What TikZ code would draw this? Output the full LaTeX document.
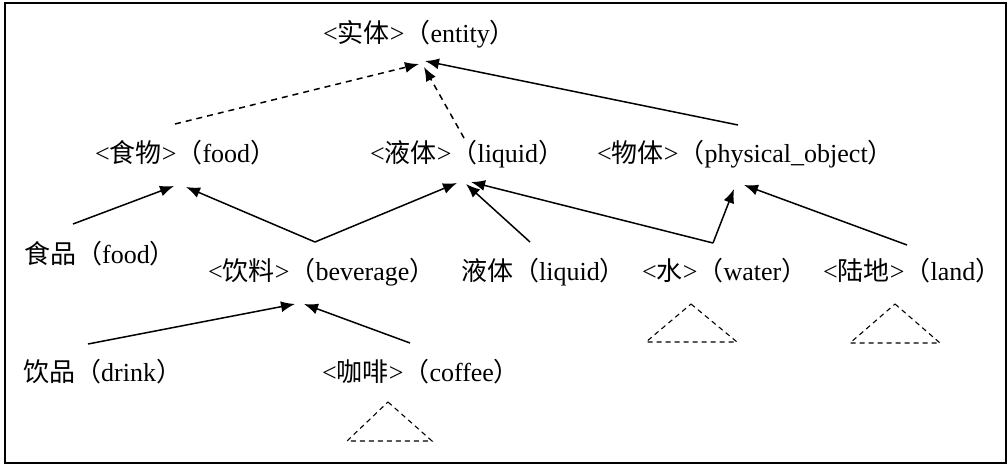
\documentclass[tikz,border=0pt]{standalone}
\usepackage{fontspec}
\setmainfont{Liberation Serif}
\newfontfamily\cjk{Noto Sans CJK SC}
\newcommand{\zh}[1]{{\cjk #1}}
\usetikzlibrary{arrows.meta}
\begin{document}
\begin{tikzpicture}[x=1pt,y=-1pt,
  lbl/.style={anchor=base west,inner sep=0pt,font=\fontsize{26}{30}\selectfont},
  isa/.style={line width=1.5pt,-{Latex[length=14pt,width=11pt]}},
  isad/.style={isa,dash pattern=on 6pt off 5pt},
  tri/.style={line width=1.1pt,dash pattern=on 5pt off 4pt}]
\useasboundingbox (0,0) rectangle (1008,465);
\draw[line width=1.5pt] (5,3) rectangle (1006,463);
% nodes
\node[lbl] (entity) at (323,43) {<\zh{实体}>\zh{（}entity\zh{）}};
\node[lbl] (food) at (95,163) {<\zh{食物}>\zh{（}food\zh{）}};
\node[lbl] (liquid) at (370,163) {<\zh{液体}>\zh{（}liquid\zh{）}};
\node[lbl] (phys) at (597,163) {<\zh{物体}>\zh{（}physical\_object\zh{）}};
\node[lbl] (shipin) at (24,263) {\zh{食品（}food\zh{）}};
\node[lbl] (bev) at (208,280) {<\zh{饮料}>\zh{（}beverage\zh{）}};
\node[lbl] (yeti) at (461,280) {\zh{液体（}liquid\zh{）}};
\node[lbl] (water) at (642,280) {<\zh{水}>\zh{（}water\zh{）}};
\node[lbl] (land) at (823,280) {<\zh{陆地}>\zh{（}land\zh{）}};
\node[lbl] (drink) at (23,381) {\zh{饮品（}drink\zh{）}};
\node[lbl] (coffee) at (322,381) {<\zh{咖啡}>\zh{（}coffee\zh{）}};
% connector points
\coordinate (eA) at (419,64);
\coordinate (eB) at (424,67);
\coordinate (eC) at (425,61);
\coordinate (foodS) at (175,124);
\coordinate (liqS) at (464,138);
\coordinate (physS) at (738,125);
\coordinate (fA) at (174,186);
\coordinate (fB) at (186,187);
\coordinate (lA) at (457,183);
\coordinate (lB) at (466,184);
\coordinate (lC) at (471,182);
\coordinate (pA) at (734,189);
\coordinate (pB) at (744,185);
\coordinate (shipinN) at (73,224);
\coordinate (bevN) at (315,242);
\coordinate (yetiN) at (530,242);
\coordinate (waterN) at (713,243);
\coordinate (landN) at (907,245);
\coordinate (bA) at (295,304);
\coordinate (bB) at (304,304);
\coordinate (drinkN) at (88,344);
\coordinate (coffeeN) at (410,343);
% level 1
\draw[isad] (foodS) -- (eA);
\draw[isad] (liqS) -- (eB);
\draw[isa] (physS) -- (eC);
% level 2
\draw[isa] (shipinN) -- (fA);
\draw[isa] (bevN) -- (fB);
\draw[isa] (bevN) -- (lA);
\draw[isa] (yetiN) -- (lB);
\draw[isa] (waterN) -- (lC);
\draw[isa] (waterN) -- (pA);
\draw[isa] (landN) -- (pB);
% level 3
\draw[isa] (drinkN) -- (bA);
\draw[isa] (coffeeN) -- (bB);
% subtree triangles
\draw[tri] (691,304) -- (737,342) -- (646,342) -- cycle;
\draw[tri] (895,304) -- (940,343) -- (850,343) -- cycle;
\draw[tri] (388,402) -- (432,441) -- (347,441) -- cycle;
\end{tikzpicture}
\end{document}
